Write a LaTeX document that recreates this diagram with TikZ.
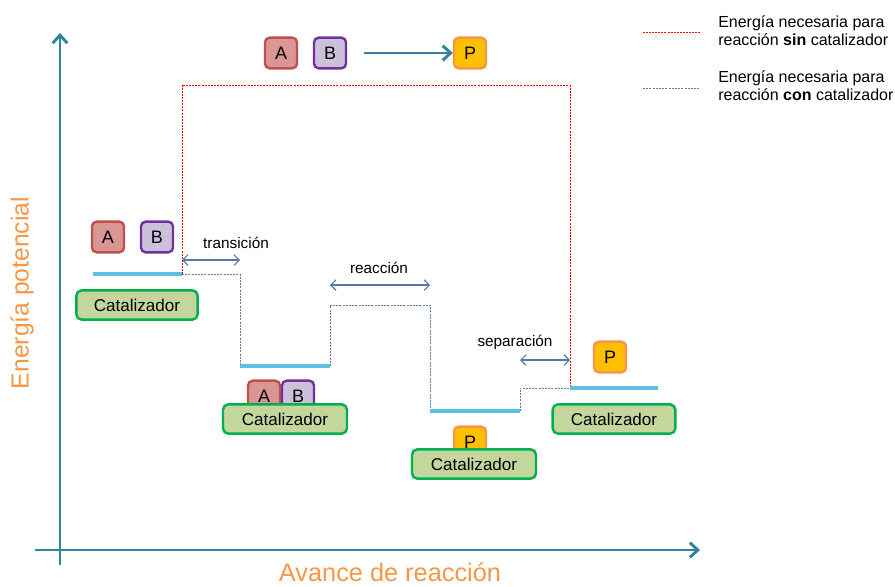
\documentclass[tikz,border=0pt]{standalone}
\usepackage{fontspec}
\setmainfont{Liberation Sans}
\usetikzlibrary{arrows.meta}

\definecolor{axisteal}{HTML}{31849B}
\definecolor{labelorange}{HTML}{F79646}
\definecolor{afill}{HTML}{D99694}
\definecolor{aline}{HTML}{C0504D}
\definecolor{bfill}{HTML}{CCC1DA}
\definecolor{bline}{HTML}{7030A0}
\definecolor{pfill}{HTML}{FFC000}
\definecolor{pline}{HTML}{F79646}
\definecolor{catfill}{HTML}{C3D69B}
\definecolor{catline}{HTML}{00B050}
\definecolor{levelblue}{HTML}{5DBFE2}
\definecolor{withblue}{HTML}{5A7DB5}
\definecolor{gapblue}{HTML}{5577AA}

\begin{document}
\begin{tikzpicture}[x=0.75pt,y=-0.75pt]
\tikzstyle{mol}=[draw, rounded corners=3.5pt, line width=1.8pt, minimum width=24pt, minimum height=23pt, inner sep=0pt, font=\fontsize{13.5}{13.5}\selectfont]
\tikzstyle{molA}=[mol, fill=afill, draw=aline]
\tikzstyle{molB}=[mol, fill=bfill, draw=bline]
\tikzstyle{molP}=[mol, fill=pfill, draw=pline]
\tikzstyle{cat}=[draw=catline, fill=catfill, rounded corners=4pt, line width=1.8pt, minimum width=91pt, minimum height=22pt, inner sep=0pt, font=\fontsize{12.8}{12.8}\selectfont]
\tikzstyle{level}=[levelblue, line width=2.6pt]
\tikzstyle{nocat}=[red, line width=0.7pt, dash pattern=on 1.5pt off 0.8pt]
\tikzstyle{withcat}=[withblue, line width=0.7pt, dash pattern=on 1.5pt off 0.9pt]
\tikzstyle{gap}=[gapblue, line width=0.8pt, {Straight Barb[length=4pt,width=8pt]}-{Straight Barb[length=4pt,width=8pt]}]
\tikzstyle{lbl}=[font=\fontsize{11.5}{11.5}\selectfont]

\useasboundingbox (0,0) rectangle (895,586);

% axes
\coordinate (ybot) at (60,565);
\coordinate (ytop) at (60,33);
\coordinate (xleft) at (35,550);
\coordinate (xright) at (700,550);
\draw[axisteal, line width=2.2pt, -{Straight Barb[length=6pt,width=11pt]}] (ybot) -- (ytop);
\draw[axisteal, line width=2.2pt, -{Straight Barb[length=6pt,width=11pt]}] (xleft) -- (xright);
\draw (22,293) node[rotate=90, text=labelorange, font=\fontsize{18.5}{18.5}\selectfont] (ylabel) {Energía potencial};
\draw (390,572) node[text=labelorange, font=\fontsize{19}{19}\selectfont] (xlabel) {Avance de reacción};

% overall reaction
\draw (281,53) node[molA] (topa) {A};
\draw (330,53) node[molB] (topb) {B};
\draw (470,53) node[molP] (topp) {P};
\coordinate (arrstart) at (364,53);
\draw[axisteal, line width=2.2pt, -{Straight Barb[length=6pt,width=11pt]}] (arrstart) -- (topp);

% energy levels
\coordinate (l0a) at (93,274);
\coordinate (l0b) at (182,274);
\coordinate (l1a) at (240,366);
\coordinate (l1b) at (330,366);
\coordinate (pk) at (330,305);
\coordinate (pk2) at (430,305);
\coordinate (l2a) at (430,411);
\coordinate (l2b) at (520,411);
\coordinate (st) at (520,388);
\coordinate (l3a) at (570,388);
\coordinate (l3b) at (658,388);
\coordinate (top0) at (182,85);
\coordinate (top1) at (570,85);

\draw[nocat] (l0b) -- (top0) -- (top1) -- (l3a);
\draw[withcat] (l0b) -| (l1a);
\draw[withcat] (l1b) -- (pk) -- (pk2) -- (l2a);
\draw[withcat] (l2b) |- (l3a);

\draw[level] (l0a) -- (l0b);
\draw[level] (l1a) -- (l1b);
\draw[level] (l2a) -- (l2b);
\draw[level] (l3a) -- (l3b);

% start
\draw (108,237) node[molA] (a0) {A};
\draw (157,237) node[molB] (b0) {B};
\draw (137,305) node[cat] (cat0) {Catalizador};

% transition
\draw (264,396) node[molA] (a1) {A};
\draw (298,396) node[molB] (b1) {B};
\draw (285,419) node[cat, minimum width=93pt] (cat1) {Catalizador};

% reaction
\draw (470,442) node[molP] (p2) {P};
\draw (474,464) node[cat, minimum width=93pt] (cat2) {Catalizador};

% separation
\draw (610,357) node[molP] (p3) {P};
\draw (614,419) node[cat, minimum width=92pt] (cat3) {Catalizador};

% steps
\coordinate (tr0) at (182,260);
\coordinate (tr1) at (240,260);
\coordinate (re0) at (330,285);
\coordinate (re1) at (430,285);
\coordinate (se0) at (520,360);
\coordinate (se1) at (570,360);
\draw[gap] (tr0) -- (tr1);
\draw[gap] (re0) -- (re1);
\draw[gap] (se0) -- (se1);
\draw (236,243) node[lbl] (trlbl) {transición};
\draw (379,268) node[lbl] (relbl) {reacción};
\draw (515,342) node[lbl] (selbl) {separación};

% legend
\coordinate (leg0a) at (643,32);
\coordinate (leg0b) at (700,32);
\coordinate (leg1a) at (643,88);
\coordinate (leg1b) at (700,88);
\draw[nocat] (leg0a) -- (leg0b);
\draw[withcat] (leg1a) -- (leg1b);
\draw (718,31) node[anchor=west, align=left, lbl, font=\fontsize{12}{13.5}\selectfont, inner sep=0pt] (leg0) {Energía necesaria para\\reacción \textbf{sin} catalizador};
\draw (718,86) node[anchor=west, align=left, lbl, font=\fontsize{12}{13.5}\selectfont, inner sep=0pt] (leg1) {Energía necesaria para\\reacción \textbf{con} catalizador};
\end{tikzpicture}
\end{document}
